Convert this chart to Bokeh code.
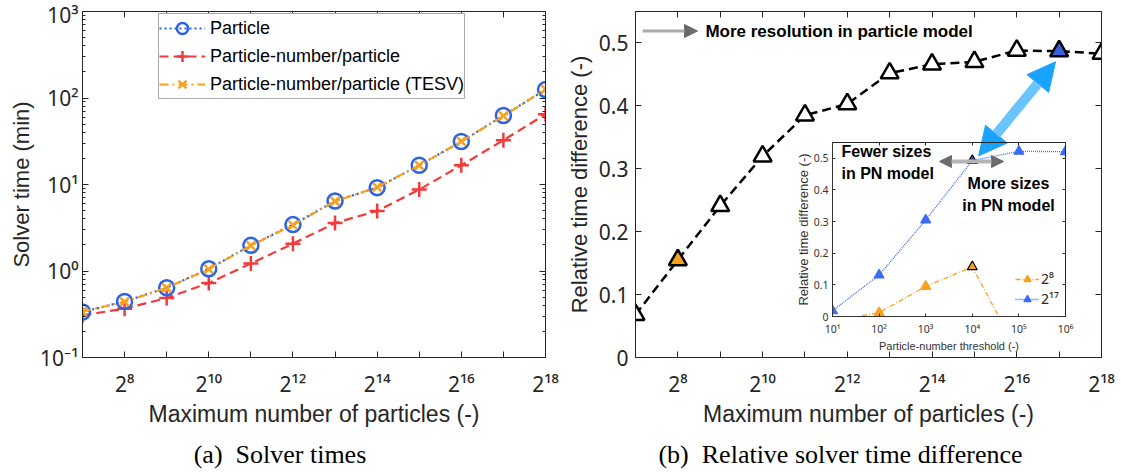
from bokeh.plotting import figure
from bokeh.models import (Range1d, FixedTicker, CustomJSTickFormatter, LinearAxis, LogAxis,
                          Legend, LegendItem, Label, Arrow, NormalHead, ColumnDataSource, Div)
from bokeh.layouts import row, column
from bokeh.embed import file_html
from bokeh.resources import INLINE

# ---------------- data ----------------
exponents = [7, 8, 9, 10, 11, 12, 13, 14, 15, 16, 17, 18]      # maximum number of particles = 2**exponent
solver_particle = [0.336, 0.445, 0.64, 1.06, 1.98, 3.44, 6.45, 9.2, 16.7, 31.4, 62.7, 125]
solver_pn = [0.307, 0.367, 0.487, 0.726, 1.22, 2.07, 3.59, 4.94, 8.73, 16.7, 32.5, 65]
solver_pn_tesv = [0.34, 0.44, 0.64, 1.05, 1.97, 3.4, 6.4, 9.3, 16.6, 31.5, 62, 126]
rel_time_diff = [0.068, 0.155, 0.241, 0.320, 0.385, 0.403, 0.452, 0.466, 0.470, 0.488, 0.487, 0.483]

pn_threshold = [1e1, 1e2, 1e3, 1e4, 1e5, 1e6]
inset_diff_2_17 = [0.018, 0.131, 0.305, 0.493, 0.522, 0.521]
pn_threshold_2_8 = [1e1, 1e2, 1e3, 1e4, 1e5]
inset_diff_2_8 = [-0.014, 0.012, 0.095, 0.157, -0.12]

solver_ticks = [0.1, 1, 10, 100, 1000]
diff_ticks = [0, 0.1, 0.2, 0.3, 0.4, 0.5]
highlight_exp = {8: "orange", 17: "blue"}
highlight_threshold = 1e4

legend_labels = ["Particle", "Particle-number/particle", "Particle-number/particle (TESV)"]
inset_labels = ["2\u2078", "2\u00b9\u2077"]
captions = ["(a)&nbsp; Solver times", "(b)&nbsp; Relative solver time difference"]

# ---------------- style ----------------
AX = "#262626"
FONT = "Liberation Sans"
TFONT = "Noto Sans"
BLUE = "#2B63E8"
RED = "#F23A3A"
ORANGE = "#F9A11B"
TRI_FILL = {"orange": "#F7A21B", "blue": "#3761DD"}
IN_BLUE = "#3D6BFA"
IN_ORANGE = "#F8A21E"

SUP_JS = """
const m = {"0":"\\u2070","1":"\\u00b9","2":"\\u00b2","3":"\\u00b3","4":"\\u2074","5":"\\u2075","6":"\\u2076","7":"\\u2077","8":"\\u2078","9":"\\u2079","-":"\\u207b"};
const sup = (n) => String(n).split("").map((c) => m[c]).join("");
"""


def pow2_fmt():
    return CustomJSTickFormatter(code=SUP_JS + "const e = Math.round(tick); return (e % 2 === 0) ? '2' + sup(e) : '';")


def pow10_fmt():
    return CustomJSTickFormatter(code=SUP_JS + "const e = Math.round(Math.log10(tick)); return '10' + sup(e);")


def dec_fmt():
    return CustomJSTickFormatter(code="return tick === 0 ? '0' : tick.toFixed(1);")


def blank_fmt():
    return CustomJSTickFormatter(code="return '';")


def style_axis(ax, size, standoff, tick_in=6, minor_in=3, color=AX):
    ax.axis_line_color = color
    ax.major_tick_line_color = color
    ax.minor_tick_line_color = color
    ax.major_tick_in = tick_in
    ax.major_tick_out = 0
    ax.minor_tick_in = minor_in
    ax.minor_tick_out = 0
    ax.major_label_text_font = TFONT
    ax.major_label_text_font_size = size
    ax.major_label_text_color = color
    ax.major_label_standoff = standoff
    ax.axis_label_text_font = FONT
    ax.axis_label_text_font_style = "normal"
    ax.axis_label_text_color = color


def mirror(p, side, cls, ticker, tick_in=6, minor_in=3):
    ax = cls(ticker=ticker, formatter=blank_fmt())
    style_axis(ax, "0px", 0, tick_in, minor_in)
    p.add_layout(ax, side)


# ================= (a) solver times =================
pL = figure(width=560, height=438, x_range=Range1d(7, 18), y_range=Range1d(0.1, 1000),
            y_axis_type="log", output_backend="svg", toolbar_location=None,
            min_border_left=82, min_border_right=15, min_border_top=11, min_border_bottom=81)
pL.grid.visible = False
pL.outline_line_color = AX

x_ticker_L = FixedTicker(ticks=exponents, minor_ticks=[])
y_ticker_L = FixedTicker(ticks=solver_ticks,
                         minor_ticks=[k * t for t in solver_ticks[:-1] for k in range(2, 10)])
pL.xaxis.ticker = x_ticker_L
pL.xaxis.formatter = pow2_fmt()
pL.yaxis.ticker = y_ticker_L
pL.yaxis.formatter = pow10_fmt()
pL.xaxis.axis_label = "Maximum number of particles (-)"
pL.yaxis.axis_label = "Solver time (min)"
for ax in pL.xaxis:
    style_axis(ax, "21px", 12)
    ax.axis_label_text_font_size = "23px"
    ax.axis_label_standoff = 0
for ax in pL.yaxis:
    style_axis(ax, "21px", 4)
    ax.axis_label_text_font_size = "22px"
    ax.axis_label_standoff = 3
mirror(pL, "above", LinearAxis, x_ticker_L)
mirror(pL, "right", LogAxis, y_ticker_L)

srcL = ColumnDataSource(dict(exp=exponents, particle=solver_particle, pn=solver_pn, tesv=solver_pn_tesv))
lr = pL.line("exp", "pn", source=srcL, line_color=RED, line_width=2.2, line_dash="9 5")
cr = pL.scatter("exp", "pn", source=srcL, marker="cross", size=15, line_color=RED, line_width=2.5)
lb = pL.line("exp", "particle", source=srcL, line_color=BLUE, line_width=2.2, line_dash="2 3")
cb = pL.scatter("exp", "particle", source=srcL, marker="circle", size=15, fill_color=None,
                line_color=BLUE, line_width=2.5)
lo = pL.line("exp", "tesv", source=srcL, line_color=ORANGE, line_width=2.2, line_dash="9 4 2 4")
co = pL.scatter("exp", "tesv", source=srcL, marker="x", size=12, line_color=ORANGE, line_width=2.5)

legL = Legend(items=[LegendItem(label=legend_labels[0], renderers=[lb, cb]),
                     LegendItem(label=legend_labels[1], renderers=[lr, cr]),
                     LegendItem(label=legend_labels[2], renderers=[lo, co])],
              location=(76, 258), label_text_font=FONT, label_text_font_size="18px",
              label_text_color="black", glyph_width=46, glyph_height=28, label_height=28,
              spacing=-5, padding=0, margin=0, label_standoff=5,
              border_line_color="#555555", border_line_width=1,
              background_fill_color="white", background_fill_alpha=1)
pL.add_layout(legL)

# ================= (b) relative solver time difference =================
pR = figure(width=561, height=438, x_range=Range1d(7, 18), y_range=Range1d(0, 0.55),
            output_backend="svg", toolbar_location=None,
            min_border_left=75, min_border_right=20, min_border_top=7, min_border_bottom=81)
pR.grid.visible = False
pR.outline_line_color = AX

x_ticker_R = FixedTicker(ticks=exponents, minor_ticks=[])
y_ticker_R = FixedTicker(ticks=diff_ticks, minor_ticks=[])
pR.xaxis.ticker = x_ticker_R
pR.xaxis.formatter = pow2_fmt()
pR.yaxis.ticker = y_ticker_R
pR.yaxis.formatter = dec_fmt()
pR.xaxis.axis_label = "Maximum number of particles (-)"
pR.yaxis.axis_label = "Relative time difference (-)"
for ax in pR.xaxis:
    style_axis(ax, "21px", 12)
    ax.axis_label_text_font_size = "23px"
    ax.axis_label_standoff = 0
for ax in pR.yaxis:
    style_axis(ax, "21px", 7)
    ax.axis_label_text_font_size = "22px"
    ax.axis_label_standoff = 4
mirror(pR, "above", LinearAxis, x_ticker_R)
mirror(pR, "right", LinearAxis, y_ticker_R)

fills = [TRI_FILL[highlight_exp[e]] if e in highlight_exp else "white" for e in exponents]
srcR = ColumnDataSource(dict(exp=exponents, diff=rel_time_diff, fill=fills))
pR.line("exp", "diff", source=srcR, line_color="black", line_width=2.5, line_dash="9 5")
pR.scatter("exp", "diff", source=srcR, marker="triangle", size=18, fill_color="fill",
           line_color="black", line_width=2.5)

pR.add_layout(Label(x=8.65, y=0.519, text="More resolution in particle model", text_font=FONT,
                    text_font_style="bold", text_font_size="17px", text_baseline="middle",
                    text_color="black"))
pR.add_layout(Arrow(x_start=7.165, y_start=0.519, x_end=8.464, y_end=0.519,
                    line_color="#ABABAB", line_width=3, start=None,
                    end=NormalHead(size=13, fill_color="#6B6B6B", line_color="#6B6B6B")))
pR.add_layout(Arrow(x_start=15.10, y_start=0.3206, x_end=16.915, y_end=0.47,
                    line_color="#6CC4FF", line_width=10,
                    start=NormalHead(size=28, fill_color="#19A3FF", line_color="#19A3FF"),
                    end=NormalHead(size=28, fill_color="#19A3FF", line_color="#19A3FF")))

# ================= captions =================
cap_style = {"font-family": "Liberation Serif", "font-size": "26px", "text-align": "center",
             "color": "black", "line-height": "34px"}
divA = Div(text=captions[0], width=560, height=34, margin=0, styles=cap_style)
divB = Div(text=captions[1], width=561, height=34, margin=0, styles=cap_style)

# ================= inset =================
IAX = "#333333"
inset = figure(width=287, height=219, x_range=Range1d(10, 1e6), y_range=Range1d(0, 0.55),
               x_axis_type="log", output_backend="svg", toolbar_location=None,
               min_border_left=40, min_border_right=14, min_border_top=5, min_border_bottom=40,
               background_fill_alpha=0, border_fill_alpha=0,
               styles={"position": "absolute", "left": "792px", "top": "137px",
                       "width": "287px", "height": "219px"})
inset.grid.visible = False
inset.outline_line_color = IAX
xi = FixedTicker(ticks=pn_threshold, minor_ticks=[])
yi = FixedTicker(ticks=diff_ticks, minor_ticks=[])
inset.xaxis.ticker = xi
inset.xaxis.formatter = pow10_fmt()
inset.yaxis.ticker = yi
inset.yaxis.formatter = dec_fmt()
inset.xaxis.axis_label = "Particle-number threshold (-)"
inset.yaxis.axis_label = "Relative time difference (-)"
for ax in inset.xaxis:
    style_axis(ax, "10.5px", 5, 3, 0, IAX)
    ax.axis_label_text_font_size = "11px"
    ax.axis_label_standoff = 1
for ax in inset.yaxis:
    style_axis(ax, "10.5px", 4, 3, 0, IAX)
    ax.axis_label_text_font_size = "13px"
    ax.axis_label_standoff = 0
mirror(inset, "above", LogAxis, xi, 3, 0)
mirror(inset, "right", LinearAxis, yi, 3, 0)

src17 = ColumnDataSource(dict(t=pn_threshold, d=inset_diff_2_17,
                              edge=["black" if t == highlight_threshold else IN_BLUE for t in pn_threshold],
                              fill=["#2E54B8" if t == highlight_threshold else IN_BLUE for t in pn_threshold]))
src8 = ColumnDataSource(dict(t=pn_threshold_2_8, d=inset_diff_2_8,
                             edge=["black" if t == highlight_threshold else IN_ORANGE for t in pn_threshold_2_8]))
l8 = inset.line("t", "d", source=src8, line_color=IN_ORANGE, line_width=1.3, line_dash="5 2 1 2")
s8 = inset.scatter("t", "d", source=src8, marker="triangle", size=10, fill_color=IN_ORANGE,
                   line_color="edge", line_width=1.2)
l17 = inset.line("t", "d", source=src17, line_color=IN_BLUE, line_width=1.3, line_dash="1 1")
s17 = inset.scatter("t", "d", source=src17, marker="triangle", size=10, fill_color="fill",
                    line_color="edge", line_width=1.2)

legI = Legend(items=[LegendItem(label=inset_labels[0], renderers=[l8, s8]),
                     LegendItem(label=inset_labels[1], renderers=[l17, s17])],
              location=(181, 6), label_text_font=TFONT, label_text_font_size="14px",
              label_text_color=AX, glyph_width=24, glyph_height=18, label_height=18,
              spacing=1, padding=2, margin=0, label_standoff=2,
              border_line_alpha=0, background_fill_alpha=0)
inset.add_layout(legI)

for x, y, txt, align in [(15.6, 0.521, "Fewer sizes", "left"), (15.6, 0.451, "in PN model", "left"),
                         (59800, 0.42, "More sizes", "center"), (59800, 0.351, "in PN model", "center")]:
    inset.add_layout(Label(x=x, y=y, text=txt, text_font=FONT, text_font_style="bold",
                           text_font_size="16px", text_align=align, text_baseline="middle",
                           text_color="black"))
inset.add_layout(Arrow(x_start=1977, y_start=0.49, x_end=46800, y_end=0.49,
                       line_color="#B4B4B4", line_width=4,
                       start=NormalHead(size=12, fill_color="#6B6B6B", line_color="#6B6B6B"),
                       end=NormalHead(size=12, fill_color="#6B6B6B", line_color="#6B6B6B")))

page = column(row(pL, pR), row(divA, divB))
with open("out.html", "w", encoding="utf-8") as f:
    f.write(file_html([page, inset], INLINE))
